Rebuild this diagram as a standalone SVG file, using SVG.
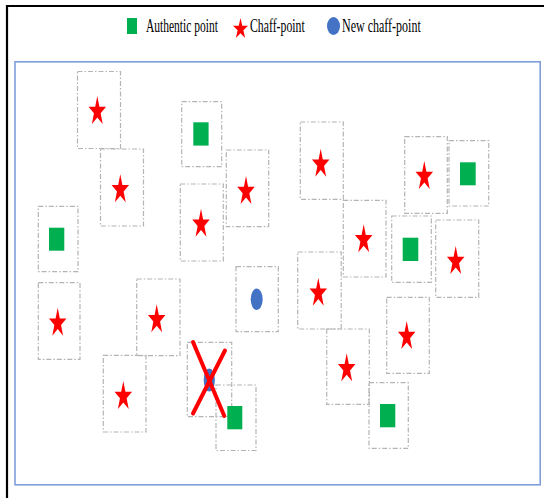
<svg xmlns="http://www.w3.org/2000/svg" xmlns:xlink="http://www.w3.org/1999/xlink" width="544" height="498" viewBox="0 0 544 498">
<style>
.box{fill:none;stroke:#b4b4b4;stroke-width:1.2;stroke-dasharray:5,2,1.5,2}
.auth{fill:#00b050}
.chaff{fill:#ff0000}
.newc{fill:#4472c4}
.lbl{font-family:"Liberation Serif","Times New Roman",serif;font-size:19px;fill:#000}
.cross{stroke:#ff0000;stroke-width:4;stroke-linecap:round}
</style>
<defs>
<path id="star" d="M0,-14 L2.1,-3.3 L8.75,-3.3 L3.35,3.3 L5.4,14 L0,7.4 L-5.4,14 L-3.35,3.3 L-8.75,-3.3 L-2.1,-3.3 Z"/>
<path id="lstar" d="M0,-9.95 L1.77,-2.35 L7.51,-2.35 L2.87,2.35 L4.65,9.95 L0,5.25 L-4.65,9.95 L-2.87,2.35 L-7.51,-2.35 L-1.77,-2.35 Z"/>
</defs>
<rect x="0" y="0" width="544" height="498" fill="#fff"/>
<path d="M7,506 V6 H550" fill="none" stroke="#000" stroke-width="2.2"/>
<g id="legend">
<rect class="auth" x="127" y="18" width="10" height="16"/>
<text class="lbl" transform="translate(146,32) scale(0.606,1)">Authentic point</text>
<use href="#lstar" xlink:href="#lstar" class="chaff" x="240.5" y="28"/>
<text class="lbl" transform="translate(250,32) scale(0.62,1)">Chaff-point</text>
<ellipse class="newc" cx="333.5" cy="26" rx="6.5" ry="9"/>
<text class="lbl" transform="translate(342,32) scale(0.632,1)">New chaff-point</text>
</g>
<rect x="15" y="61.8" width="525.2" height="423" fill="none" stroke="#7f9fdb" stroke-width="1.6"/>
<g id="n1"><rect class="box" x="77.5" y="71.5" width="43" height="77"/><use href="#star" xlink:href="#star" class="chaff" x="97.3" y="110"/></g>
<g id="n2"><rect class="box" x="100.5" y="149" width="43" height="77"/><use href="#star" xlink:href="#star" class="chaff" x="120.3" y="188.3"/></g>
<g id="n3"><rect class="box" x="181.7" y="101.7" width="40" height="65"/><rect class="auth" x="193.3" y="122.3" width="15.3" height="23.3"/></g>
<g id="n4"><rect class="box" x="180.3" y="184" width="43" height="77"/><use href="#star" xlink:href="#star" class="chaff" x="201" y="222.7"/></g>
<g id="n5"><rect class="box" x="226.3" y="150" width="42.4" height="76.7"/><use href="#star" xlink:href="#star" class="chaff" x="246" y="190"/></g>
<g id="n6"><rect class="box" x="38.3" y="206.3" width="39.7" height="65.4"/><rect class="auth" x="49" y="227.7" width="15.3" height="23"/></g>
<g id="n7"><rect class="box" x="300.3" y="122" width="43" height="77.3"/><use href="#star" xlink:href="#star" class="chaff" x="320.7" y="162.7"/></g>
<g id="n8"><rect class="box" x="404.7" y="136.7" width="42.6" height="76.6"/><use href="#star" xlink:href="#star" class="chaff" x="424.3" y="175"/></g>
<g id="n9"><rect class="box" x="449" y="140.7" width="39.7" height="65.3"/><rect class="auth" x="460" y="162.3" width="15.7" height="23"/></g>
<g id="n10"><rect class="box" x="343.3" y="200.3" width="42.7" height="76.7"/><use href="#star" xlink:href="#star" class="chaff" x="363.7" y="238.3"/></g>
<g id="n11"><rect class="box" x="391.7" y="216" width="39.6" height="66.3"/><rect class="auth" x="402.7" y="237.7" width="15.6" height="23.3"/></g>
<g id="n12"><rect class="box" x="435.7" y="220" width="43" height="77.3"/><use href="#star" xlink:href="#star" class="chaff" x="455.7" y="260"/></g>
<g id="n13"><rect class="box" x="297.7" y="252" width="43.5" height="77"/><use href="#star" xlink:href="#star" class="chaff" x="318.3" y="291.7"/></g>
<g id="n14"><rect class="box" x="38.3" y="282.7" width="41.7" height="76.6"/><use href="#star" xlink:href="#star" class="chaff" x="57.7" y="321.7"/></g>
<g id="n15"><rect class="box" x="136.7" y="279" width="43.3" height="76.7"/><use href="#star" xlink:href="#star" class="chaff" x="156.7" y="318.3"/></g>
<g id="n16"><rect class="box" x="236" y="266.7" width="42.3" height="65"/><ellipse class="newc" cx="256.7" cy="299.3" rx="6" ry="10.8"/></g>
<g id="n17"><rect class="box" x="103.3" y="355.3" width="42.7" height="76.7"/><use href="#star" xlink:href="#star" class="chaff" x="123.3" y="395"/></g>
<g id="n18"><rect class="box" x="187.3" y="342.3" width="44.4" height="74.4"/><ellipse class="newc" cx="209.3" cy="380" rx="5.6" ry="11.5"/></g>
<g id="n19"><rect class="box" x="216" y="385" width="40" height="65.5"/><rect class="auth" x="227.3" y="406" width="15" height="23.3"/></g>
<g id="n20"><rect class="box" x="326.7" y="329" width="42.6" height="75.3"/><use href="#star" xlink:href="#star" class="chaff" x="346.7" y="367.3"/></g>
<g id="n21"><rect class="box" x="386.7" y="297.3" width="42.6" height="76"/><use href="#star" xlink:href="#star" class="chaff" x="406.7" y="335"/></g>
<g id="n22"><rect class="box" x="369" y="382.7" width="39.3" height="65.6"/><rect class="auth" x="380" y="404" width="15.3" height="23.3"/></g>
<g id="connectors">
<line class="cross" x1="193" y1="342" x2="224.3" y2="416"/>
<line class="cross" x1="225" y1="350.5" x2="193" y2="413.5"/>
</g>
</svg>
